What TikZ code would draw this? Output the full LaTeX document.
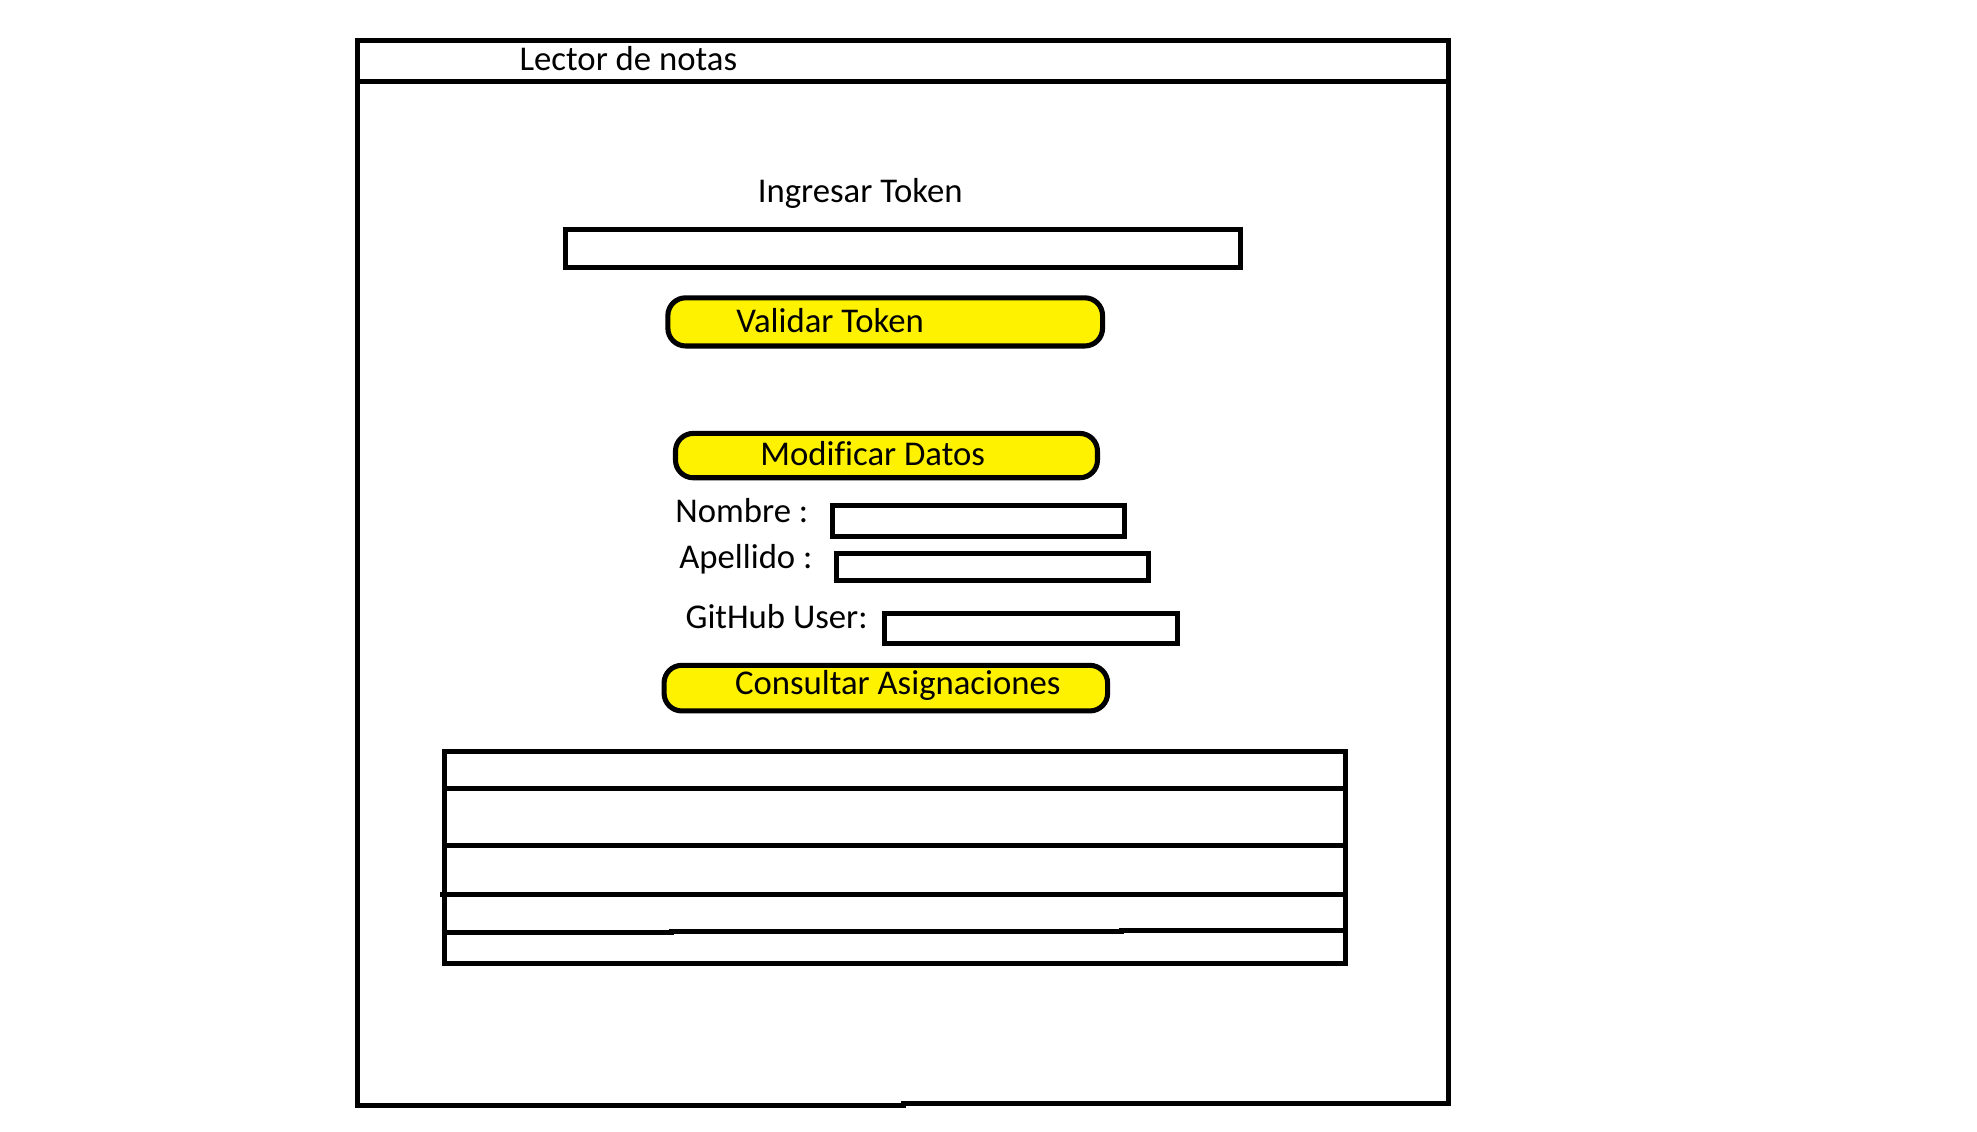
\documentclass[tikz,border=0pt]{standalone}
\usepackage{fontspec}
\setmainfont[Ligatures=NoCommon]{Carlito}
\definecolor{btnyellow}{RGB}{255,242,0}
\begin{document}
\begin{tikzpicture}[x=0.5pt,y=-0.5pt, line width=2pt,
  lbl/.style={anchor=base west, inner sep=0pt, font=\fontsize{13.7pt}{16pt}\selectfont},
  field/.style={draw, inner sep=0pt},
  btn/.style={draw, fill=btnyellow, rounded corners=7pt, inner sep=0pt}]
\useasboundingbox (0,0) rectangle (1560,893);
% window frame
\draw (282,32) -- (1143,32) -- (1143,871) -- (713,871) -- (713,872) -- (282,872) -- cycle;
\draw (282,64) -- (1143,64);
\node[lbl] (title) at (408,55.5) {Lector de notas};
% token
\node[lbl] (ingresar) at (596,159.5) {Ingresar Token};
\node[field, minimum width=266.5pt, minimum height=15pt] (tokfield) at (712.5,196) {};
\node[btn, minimum width=171.5pt, minimum height=19pt] (validar) at (698.5,254) {};
\node[lbl] (validartxt) at (579,262.5) {Validar Token};
% modificar datos
\node[btn, minimum width=166.5pt, minimum height=17.5pt] (modificar) at (699.5,359.5) {};
\node[lbl] (modificartxt) at (598,367) {Modificar Datos};
\node[lbl] (nombre) at (531,412) {Nombre :};
\node[field, minimum width=115pt, minimum height=12pt] (nombrefield) at (772,411) {};
\node[lbl] (apellido) at (534,448.5) {Apellido :};
\node[field, minimum width=123pt, minimum height=10.5pt] (apellidofield) at (783,447.5) {};
\node[lbl] (github) at (539,496) {GitHub User:};
\node[field, minimum width=115.5pt, minimum height=12pt] (githubfield) at (813.5,496) {};
% consultar
\node[btn, minimum width=175pt, minimum height=18pt] (consultar) at (699,543) {};
\node[lbl] (consultartxt) at (578,548) {Consultar Asignaciones};
% table
\draw (351,593) rectangle (1062,760);
\draw (351,622) -- (1064,622);
\draw (351,667) -- (1062,667);
\draw (347,706) -- (1060,706);
\draw (351,736) -- (530,736) -- (530,735) -- (885,735) -- (885,734) -- (1062,734);
\end{tikzpicture}
\end{document}
